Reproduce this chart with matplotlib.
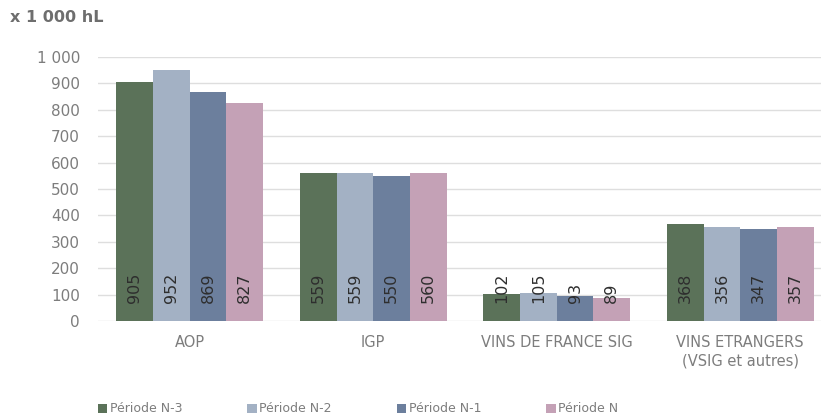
import numpy as np
import matplotlib
matplotlib.use("Agg")
import matplotlib.pyplot as plt
from matplotlib.patches import Patch

# -----------------------------
# 데이터
# -----------------------------
categories = ["AOP", "IGP", "VINS DE FRANCE SIG", "VINS ETRANGERS\n(VSIG et autres)"]
series_names = ["Période N-3", "Période N-2", "Période N-1", "Période N"]
n3 = [905, 559, 102, 368]
n2 = [952, 559, 105, 356]
n1 = [869, 550, 93, 347]
n0 = [827, 560, 89, 357]
y_ticks = [0, 100, 200, 300, 400, 500, 600, 700, 800, 900, 1000]
y_tick_labels = ["0", "100", "200", "300", "400", "500", "600", "700", "800", "900", "1 000"]

colors = ["#5b7259", "#a3b1c4", "#6c7f9d", "#c4a1b6"]
text_gray = "#7d7d7d"

plt.rcParams["font.family"] = ["DejaVu Sans"]

fig = plt.figure(figsize=(8.21, 4.20), dpi=100)
ax = fig.add_axes([98 / 821, 99 / 420, 723 / 821, 264 / 420])

x = np.arange(len(categories))
width = 0.2
all_series = [n3, n2, n1, n0]

for i, (vals, col, name) in enumerate(zip(all_series, colors, series_names)):
    pos = x + (i - 1.5) * width
    ax.bar(pos, vals, width, color=col, label=name, zorder=3)
    for px, v in zip(pos, vals):
        ax.text(px, 70, f"{v}", rotation=90, ha="center", va="bottom",
                fontsize=11.5, color="#2e2e2e", zorder=4)

# 축 설정
ax.set_xlim(-0.5, 3.44)
ax.set_ylim(0, 1000)
ax.set_yticks(y_ticks)
ax.set_yticklabels(y_tick_labels)
ax.set_xticks(x)
ax.set_xticklabels(categories, linespacing=1.3)
ax.tick_params(axis="y", length=0, pad=13, labelsize=11, labelcolor=text_gray)
ax.tick_params(axis="x", length=0, pad=10, labelsize=10.5, labelcolor=text_gray)
ax.grid(axis="y", color="#dedede", linewidth=1, zorder=0)
for s in ax.spines.values():
    s.set_visible(False)

# 제목
fig.text(10 / 821, 1 - 18 / 420, "x 1 000 hL", fontsize=11.5, fontweight="bold",
         color="#6e6e6e", ha="left", va="center")

# 범례
handles = [Patch(facecolor=c) for c in colors]
leg = fig.legend(handles, series_names, loc="center left",
                 bbox_to_anchor=(98 / 821, 11 / 420), ncol=4, frameon=False,
                 handlelength=0.75, handleheight=0.75, handletextpad=0.2,
                 columnspacing=5.2, fontsize=9, borderaxespad=0, borderpad=0)
for t in leg.get_texts():
    t.set_color(text_gray)

fig.savefig("out.png", dpi=100)
